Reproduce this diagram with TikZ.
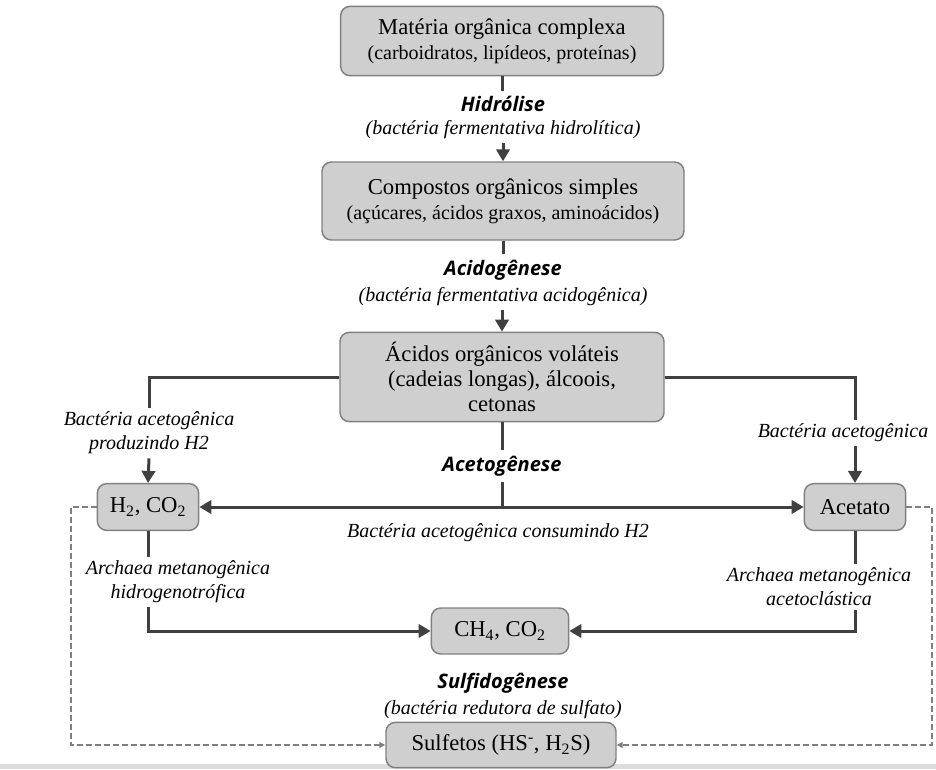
\documentclass[tikz,border=0pt]{standalone}
\usepackage{fontspec}
\setmainfont{Liberation Serif}
\newfontfamily\stagefont{Open Sans}
\usetikzlibrary{arrows.meta}
\definecolor{ink}{HTML}{404040}
\definecolor{boxfill}{HTML}{D0CFCF}
\definecolor{boxline}{HTML}{808080}
\definecolor{dashgray}{HTML}{7F7F7F}
\definecolor{rulegray}{HTML}{DCDCDC}
\newcommand{\subline}[1]{{\fontsize{15}{18}\selectfont #1}}

\begin{document}
\begin{tikzpicture}[x=.75pt,y=-.75pt,
  box/.style={draw=boxline,fill=boxfill,line width=1.1pt,rounded corners=7pt,align=center,inner sep=2pt,font=\fontsize{17}{18.75}\selectfont},
  lab/.style={font=\fontsize{15}{18}\selectfont\itshape,align=center,inner sep=3pt},
  stage/.style={font=\stagefont\fontsize{15}{17}\selectfont\bfseries\itshape,inner sep=4pt},
  flow/.style={ink,line width=2.25pt},
  arr/.style={flow,-{Triangle[length=9pt,width=10pt]}},
  sulfarr/.style={dashgray,line width=1.5pt,dash pattern=on 4.5pt off 2.25pt,-{Triangle[length=4.5pt,width=4.5pt]}}]
\useasboundingbox (0,0) rectangle (936,769);
\fill[rulegray] (0,764) rectangle (936,769);
\node[box,minimum width=242pt,minimum height=52pt] (mat) at (502,41) {Matéria orgânica complexa\\\subline{(carboidratos, lipídeos, proteínas)}};
\node[stage] (hid) at (503,104) {Hidrólise};
\node[lab] (hidsub) at (503,130) {(bactéria fermentativa hidrolítica)};
\node[box,minimum width=271.5pt,minimum height=58.5pt] (comp) at (503,201) {Compostos orgânicos simples\\\subline{(açúcares, ácidos graxos, aminoácidos)}};
\node[stage] (acid) at (503,270) {Acidogênese};
\node[lab] (acidsub) at (503,297) {(bactéria fermentativa acidogênica)};
\node[box,minimum width=243pt,minimum height=67pt] (aov) at (502,377) {Ácidos orgânicos voláteis\\(cadeias longas), álcoois,\\cetonas};
\node[lab] (prodh) at (149,433) {Bactéria acetogênica\\produzindo H2};
\node[lab] (bacet) at (843,433) {Bactéria acetogênica};
\node[stage] (aceto) at (502,466) {Acetogênese};
\node[box,minimum width=76pt,minimum height=35pt] (hco) at (148,507) {H\textsubscript{2}, CO\textsubscript{2}};
\node[box,minimum width=76pt,minimum height=35pt] (acet) at (855,507) {Acetato};
\node[lab] (consh) at (498,533) {Bactéria acetogênica consumindo H2};
\node[lab] (hidro) at (178,582) {Archaea metanogênica\\hidrogenotrófica};
\node[lab] (aclas) at (819,587) {Archaea metanogênica\\acetoclástica};
\node[box,minimum width=103pt,minimum height=34.5pt] (ch4) at (500,631) {CH\textsubscript{4}, CO\textsubscript{2}};
\node[stage] (sulfg) at (503,683) {Sulfidogênese};
\node[lab] (sulfsub) at (503,710) {(bactéria redutora de sulfato)};
\node[box,minimum width=172.5pt,minimum height=34pt] (sulf) at (501,745) {Sulfetos (HS\textsuperscript{-}, H\textsubscript{2}S)};
\draw[flow] (mat.south) -- (mat.south |- hid.north);
\draw[arr] (comp.north |- hidsub.south) -- (comp.north);
\draw[flow] (comp.south) -- (comp.south |- acid.north);
\draw[arr] (aov.north |- acidsub.south) -- (aov.north);
\draw[flow] (aov.west) -| (prodh.north);
\draw[arr] (prodh.south) -- (hco.north);
\draw[flow] (aov.east) -| (bacet.north -| acet.north);
\draw[arr] (bacet.south -| acet.north) -- (acet.north);
\draw[flow] (aov.south) -- (aov.south |- aceto.north);
\draw[flow] (aceto.south) -- (aceto.south |- hco.east);
\draw[arr,{Triangle[length=9pt,width=10pt]}-{Triangle[length=9pt,width=10pt]}] (hco.east) -- (acet.west);
\draw[flow] (hco.south) -- (hco.south |- hidro.north);
\draw[arr] (hco.south |- hidro.south) |- (ch4.west);
\draw[flow] (acet.south) -- (acet.south |- aclas.north);
\draw[arr] (acet.south |- aclas.south) |- (ch4.east);
\draw[sulfarr] (hco.west) -- ++(-26,0) |- (sulf.west);
\draw[sulfarr] (acet.east) -- ++(26,0) |- (sulf.east);
\end{tikzpicture}
\end{document}
